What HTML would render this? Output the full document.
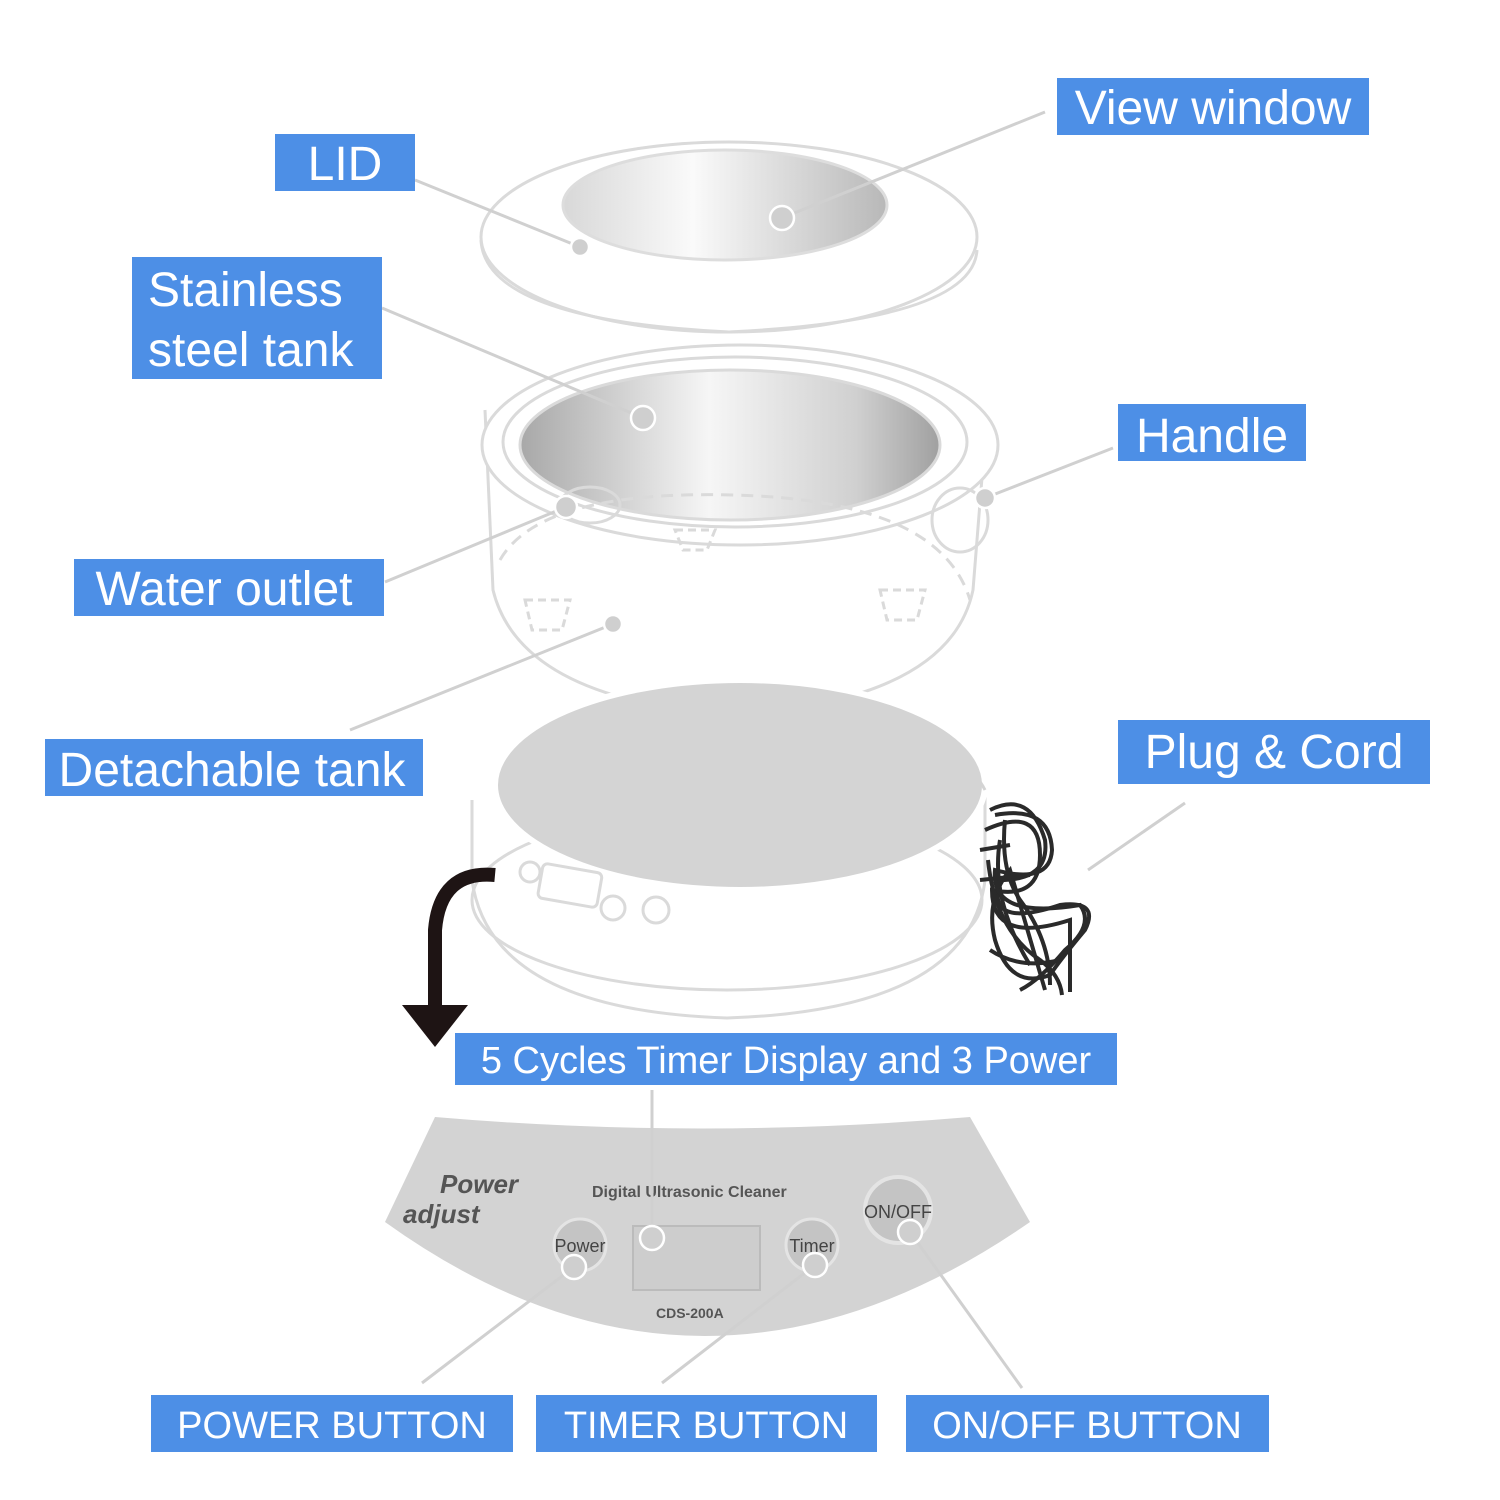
<!DOCTYPE html>
<html><head><style>
html,body{margin:0;padding:0;background:#fff;}
svg{display:block;}
text{font-family:"Liberation Sans",sans-serif;}
</style></head><body>
<svg width="1500" height="1500" viewBox="0 0 1500 1500" xmlns="http://www.w3.org/2000/svg">
<defs>
<linearGradient id="win" x1="0" x2="1" y1="0" y2="0">
<stop offset="0" stop-color="#d8d8d8"/><stop offset="0.4" stop-color="#fafafa"/><stop offset="1" stop-color="#b8b8b8"/>
</linearGradient>
<linearGradient id="tank" x1="0" x2="1" y1="0" y2="0">
<stop offset="0" stop-color="#a8a8a8"/><stop offset="0.45" stop-color="#f6f6f6"/><stop offset="0.8" stop-color="#d0d0d0"/><stop offset="1" stop-color="#a0a0a0"/>
</linearGradient>
</defs>
<g fill="none" stroke="#dadada" stroke-width="3">
<ellipse cx="729" cy="237" rx="248" ry="95" fill="#fff"/>
<path d="M481,240 Q485,320 729,332 Q973,320 977,250"/>
<ellipse cx="725" cy="205" rx="162" ry="55" fill="url(#win)" stroke="#ddd"/>
<path d="M485,410 L493,590 Q520,700 733,715 Q950,700 973,590 L985,440" fill="#fff"/>
<ellipse cx="740" cy="445" rx="258" ry="100" fill="#fff"/>
<ellipse cx="735" cy="442" rx="232" ry="85"/>
<ellipse cx="730" cy="445" rx="210" ry="75" fill="url(#tank)"/>
<path d="M500,560 Q540,490 733,495 Q940,500 970,600" stroke-dasharray="12 8"/>
<ellipse cx="590" cy="505" rx="30" ry="18"/>
<ellipse cx="960" cy="520" rx="28" ry="32"/>
<path d="M525,600 l45,0 l-8,30 l-30,0z M880,590 l45,0 l-8,30 l-30,0z M750,690 l50,0 l-8,30 l-34,0z M675,530 l40,0 l-8,20 l-24,0z" stroke-dasharray="8 5"/>
<path d="M472,800 L472,880 Q490,1010 727,1018 Q970,1010 985,880 L985,790"/>
<ellipse cx="727" cy="900" rx="255" ry="90"/>
<ellipse cx="740" cy="785" rx="245" ry="105" fill="#d4d4d4" stroke="#fff" stroke-width="6"/>
<path d="M720,715 Q950,720 985,790" stroke="#d4d4d4"/>
<rect x="540" y="868" width="60" height="35" rx="5" transform="rotate(10 570 885)"/>
<circle cx="530" cy="872" r="10"/>
<circle cx="613" cy="908" r="12"/>
<circle cx="656" cy="910" r="13"/>
</g>
<!-- cord bundle -->
<g fill="none" stroke="#2a2a2a" stroke-width="4">
<path d="M990,810 Q1030,790 1045,840 Q1050,880 1000,880 Q985,930 1060,905 Q1100,900 1085,930 Q1060,960 1050,975 Q1010,990 995,940 Q985,900 1010,870 L1045,990"/>
<path d="M985,830 Q1040,805 1040,855 Q1040,900 992,890 Q992,945 1070,920 L1070,992 M1000,840 Q990,900 1030,965"/>
<path d="M995,815 Q1050,805 1052,850 Q1050,885 995,870 Q990,920 1080,905 Q1095,925 1065,950 Q1040,980 1020,990"/>
<path d="M988,860 Q995,930 1040,960 Q1060,975 1062,995 M1005,820 Q1000,870 1020,900 Q1050,940 1050,985"/>
<path d="M980,850 L1010,845 M980,880 L1030,875 M990,950 Q1020,970 1060,960"/>
</g>
<path d="M495,875 Q440,870 435,930 L435,1005" fill="none" stroke="#1e1414" stroke-width="14"/>
<polygon points="402,1005 468,1005 435,1047" fill="#1e1414"/>
<!-- panel -->
<path d="M435,1117 Q702,1140 970,1117 L1030,1222 Q702,1450 385,1222 Z" fill="#d3d3d3"/>
<text x="440" y="1193" font-size="26" font-style="italic" font-weight="bold" fill="#555">Power</text>
<text x="403" y="1223" font-size="26" font-style="italic" font-weight="bold" fill="#555">adjust</text>
<text x="592" y="1197" font-size="16" font-weight="bold" fill="#555">Digital Ultrasonic Cleaner</text>
<rect x="633" y="1226" width="127" height="64" fill="#cdcdcd" stroke="#bbb" stroke-width="2"/>
<text x="656" y="1318" font-size="14" font-weight="bold" fill="#555">CDS-200A</text>
<circle cx="580" cy="1245" r="26" fill="#c4c4c4" stroke="#e4e4e4" stroke-width="3"/>
<text x="580" y="1252" font-size="18" text-anchor="middle" fill="#444">Power</text>
<circle cx="812" cy="1245" r="26" fill="#c4c4c4" stroke="#e4e4e4" stroke-width="3"/>
<text x="812" y="1252" font-size="18" text-anchor="middle" fill="#444">Timer</text>
<circle cx="898" cy="1210" r="33" fill="#c4c4c4" stroke="#e4e4e4" stroke-width="4"/>
<text x="898" y="1218" font-size="18" text-anchor="middle" fill="#444">ON/OFF</text>
<g stroke="#d0d0d0" stroke-width="3" fill="none">
<line x1="415" y1="180" x2="580" y2="247"/>
<line x1="1045" y1="112" x2="782" y2="218"/>
<line x1="382" y1="308" x2="643" y2="418"/>
<line x1="1113" y1="448" x2="985" y2="498"/>
<line x1="385" y1="582" x2="566" y2="507"/>
<line x1="350" y1="730" x2="613" y2="624"/>
<line x1="1185" y1="803" x2="1088" y2="870"/>
<line x1="652" y1="1090" x2="652" y2="1238"/>
<line x1="422" y1="1383" x2="574" y2="1267"/>
<line x1="662" y1="1383" x2="815" y2="1265"/>
<line x1="1022" y1="1388" x2="910" y2="1232"/>
</g>
<g fill="#cfcfcf" stroke="#fff" stroke-width="2.5">
<circle cx="580" cy="247" r="9"/><circle cx="782" cy="218" r="12"/><circle cx="643" cy="418" r="12"/>
<circle cx="985" cy="498" r="10"/><circle cx="566" cy="507" r="11"/><circle cx="613" cy="624" r="9"/>
<circle cx="652" cy="1238" r="12"/><circle cx="574" cy="1267" r="12"/><circle cx="815" cy="1265" r="12"/><circle cx="910" cy="1232" r="12"/>
</g>
<g fill="#4d8fe6">
<rect x="275" y="134" width="140" height="57"/>
<rect x="1057" y="78" width="312" height="57"/>
<rect x="132" y="257" width="250" height="122"/>
<rect x="1118" y="404" width="188" height="57"/>
<rect x="74" y="559" width="310" height="57"/>
<rect x="45" y="739" width="378" height="57"/>
<rect x="1118" y="720" width="312" height="64"/>
<rect x="455" y="1033" width="662" height="52"/>
<rect x="151" y="1395" width="362" height="57"/>
<rect x="536" y="1395" width="341" height="57"/>
<rect x="906" y="1395" width="363" height="57"/>
</g>
<g fill="#fff" font-size="48">
<text x="345" y="180" text-anchor="middle">LID</text>
<text x="1213" y="124" text-anchor="middle">View window</text>
<text x="148" y="306">Stainless</text>
<text x="148" y="366">steel tank</text>
<text x="1212" y="452" text-anchor="middle">Handle</text>
<text x="224" y="605" text-anchor="middle">Water outlet</text>
<text x="232" y="786" text-anchor="middle">Detachable tank</text>
<text x="1274" y="768" text-anchor="middle">Plug &amp; Cord</text>
<text x="786" y="1073" text-anchor="middle" font-size="38">5 Cycles Timer Display and 3 Power</text>
<text x="332" y="1438" text-anchor="middle" font-size="38">POWER BUTTON</text>
<text x="706" y="1438" text-anchor="middle" font-size="38">TIMER BUTTON</text>
<text x="1087" y="1438" text-anchor="middle" font-size="38">ON/OFF BUTTON</text>
</g>
</svg>
</body></html>
